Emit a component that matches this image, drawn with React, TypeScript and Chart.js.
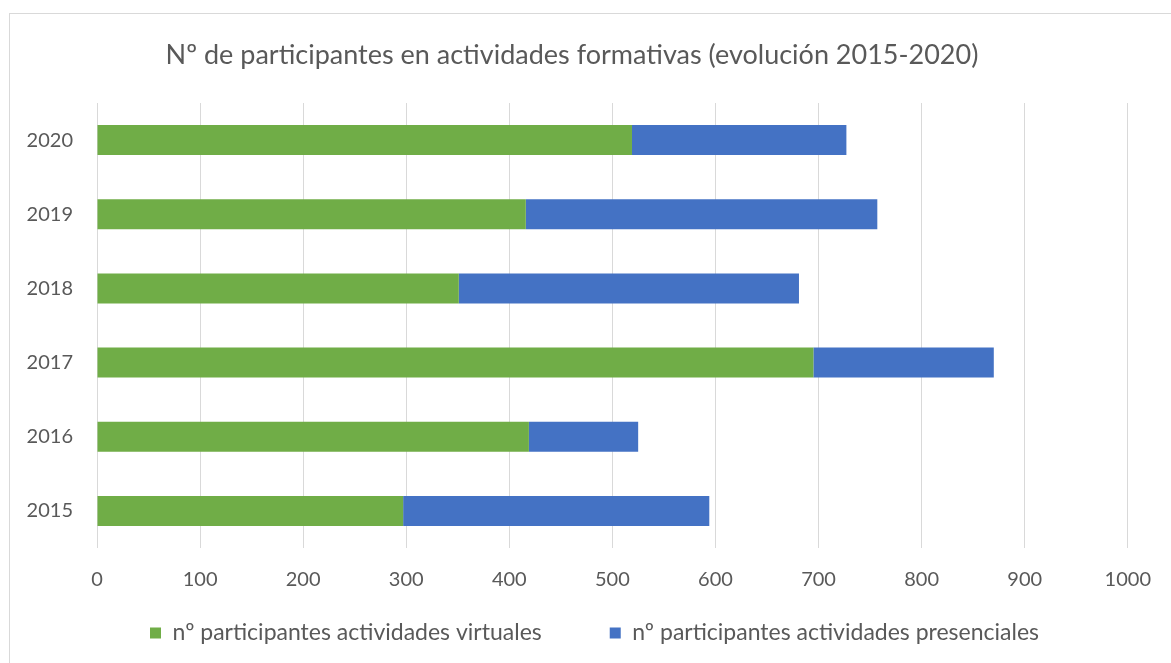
import React, { useEffect, useRef } from "react";
import { Chart, registerables } from "chart.js";

Chart.register(...registerables);

const years = ["2015", "2016", "2017", "2018", "2019", "2020"];
const virtuales = [297, 419, 695, 351, 416, 519];
const presenciales = [297, 106, 175, 330, 341, 208];
const xTicks = [0, 100, 200, 300, 400, 500, 600, 700, 800, 900, 1000];

const titleText = "Nº de participantes en actividades formativas (evolución 2015-2020)";
const labelVirtual = "nº participantes actividades virtuales";
const labelPresencial = "nº participantes actividades presenciales";

const FONT = "Lato, 'Noto Sans', sans-serif";
const TEXT = "#595959";
const LEGEND_PAD = 68;
const LEGEND_FONT = 23;

const framePlugin = {
  id: "frame",
  beforeDraw(chart: any) {
    const ctx = chart.ctx;
    ctx.save();
    ctx.fillStyle = "#ffffff";
    ctx.fillRect(0, 0, chart.width, chart.height);
    ctx.strokeStyle = "#d9d9d9";
    ctx.lineWidth = 1;
    ctx.strokeRect(9.5, 13.5, chart.width + 20, chart.height + 20);
    ctx.restore();
  },
  afterLayout(chart: any) {
    const lg = chart.legend;
    if (lg && lg.lineWidths) {
      const sum = 2 * 150 + lg.lineWidths[0] - LEGEND_PAD;
      lg.left = sum - lg.right;
      lg.width = lg.right - lg.left;
      lg.top = 633 - LEGEND_FONT / 2 - LEGEND_PAD;
      lg.bottom = chart.height;
      lg.height = lg.bottom - lg.top;
    }
    const t = chart.titleBlock;
    if (t) {
      t.left += 15;
    }
  },
};

export default function App() {
  const ref = useRef<HTMLCanvasElement | null>(null);
  useEffect(() => {
    if (!ref.current) return;
    const chart = new Chart(ref.current, {
      type: "bar",
      data: {
        labels: years,
        datasets: [
          {
            label: labelVirtual,
            data: virtuales,
            backgroundColor: "#70AD47",
            borderWidth: 0,
            categoryPercentage: 1,
            barPercentage: 0.404,
          },
          {
            label: labelPresencial,
            data: presenciales,
            backgroundColor: "#4472C4",
            borderWidth: 0,
            categoryPercentage: 1,
            barPercentage: 0.404,
          },
        ],
      },
      options: {
        indexAxis: "y",
        responsive: false,
        animation: false,
        maintainAspectRatio: false,
        layout: { padding: { top: 30, left: 0, right: 42, bottom: 60 } },
        plugins: {
          title: {
            display: true,
            text: titleText,
            color: TEXT,
            font: { family: FONT, size: 27, weight: "normal" },
            padding: { top: 9, bottom: 31.6 },
          },
          legend: {
            position: "bottom",
            maxHeight: 10,
            labels: {
              color: TEXT,
              boxWidth: 11,
              boxHeight: 11,
              padding: LEGEND_PAD,
              font: { family: FONT, size: LEGEND_FONT },
            },
          },
          tooltip: { enabled: false },
        },
        scales: {
          x: {
            stacked: true,
            min: 0,
            max: 1000,
            afterBuildTicks: (s: any) => {
              s.ticks = xTicks.map((v) => ({ value: v }));
            },
            grid: { color: "#d9d9d9", lineWidth: 1, drawTicks: false },
            border: { display: false },
            ticks: {
              color: TEXT,
              padding: 20,
              font: { family: FONT, size: 20 },
              callback: (v: any) => String(v),
            },
            afterFit: (s: any) => {
              s.height = 45;
            },
          },
          y: {
            stacked: true,
            reverse: true,
            grid: { display: false },
            border: { display: false },
            ticks: {
              color: TEXT,
              padding: 16,
              font: { family: FONT, size: 20 },
            },
            afterFit: (s: any) => {
              s.width = 97;
            },
          },
        },
      },
      plugins: [framePlugin],
    });
    return () => chart.destroy();
  }, []);

  return (
    <div style={{ position: "fixed", left: 0, top: 0, width: 1171, height: 663 }}>
      <canvas ref={ref} width={1171} height={663} style={{ display: "block" }} />
    </div>
  );
}
